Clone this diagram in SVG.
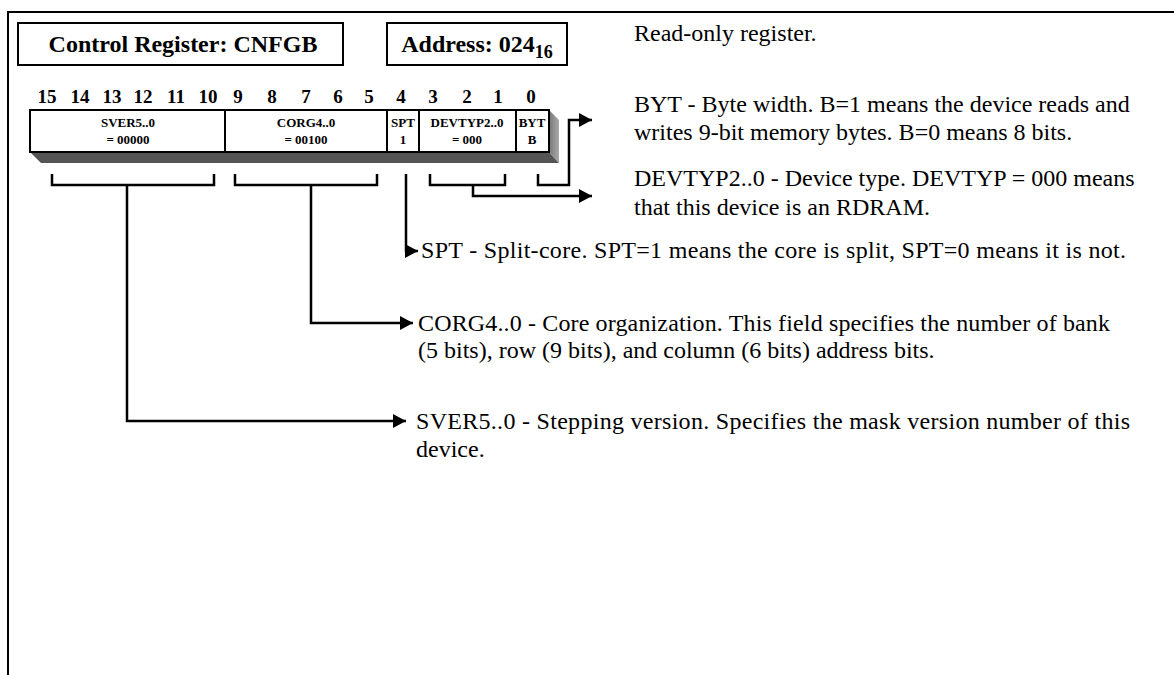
<svg xmlns="http://www.w3.org/2000/svg" width="1174" height="675" viewBox="0 0 1174 675">
<defs>
<marker id="arr" markerUnits="userSpaceOnUse" markerWidth="13" markerHeight="14" refX="13" refY="7" orient="auto">
<path d="M0,0 L13,7 L0,14 Z" fill="#000"/>
</marker>
<linearGradient id="side" x1="0" y1="0" x2="1" y2="0">
<stop offset="0" stop-color="#777"/>
<stop offset="1" stop-color="#aaa"/>
</linearGradient>
</defs>
<style>
.frame{fill:none;stroke:#000;stroke-width:2}
.box{fill:#fff;stroke:#000;stroke-width:2}
.title{font-family:"Liberation Serif",serif;font-weight:bold;font-size:24px;fill:#000}
.bits{font-family:"Liberation Serif",serif;font-weight:bold;font-size:19px;fill:#000}
.fld{font-family:"Liberation Serif",serif;font-weight:bold;font-size:13px;fill:#000}
.desc{font-family:"Liberation Serif",serif;font-size:24px;fill:#000}
.conn{fill:none;stroke:#000;stroke-width:2.5}
</style>
<rect width="1174" height="675" fill="#fff"/>
<path class="frame" d="M8,675 V12 H1174"/>

<g id="title-register">
<rect class="box" x="18" y="23" width="325" height="42"/>
<text class="title" x="183" y="52" text-anchor="middle">Control Register: CNFGB</text>
</g>
<g id="title-address">
<rect class="box" x="387" y="23" width="180" height="42"/>
<text class="title" x="477" y="52" text-anchor="middle">Address: 024<tspan font-size="18" dy="6">16</tspan></text>
</g>

<g id="bit-numbers" class="bits" text-anchor="middle">
<text x="47" y="103">15</text><text x="80" y="103">14</text><text x="112" y="103">13</text>
<text x="143" y="103">12</text><text x="176" y="103">11</text><text x="208" y="103">10</text>
<text x="238" y="103">9</text><text x="272" y="103">8</text><text x="306" y="103">7</text>
<text x="338" y="103">6</text><text x="369" y="103">5</text><text x="401" y="103">4</text>
<text x="433" y="103">3</text><text x="467" y="103">2</text><text x="498" y="103">1</text>
<text x="531" y="103">0</text>
</g>

<g id="register">
<polygon points="30,152 549,152 559,163 41,163" fill="#555"/>
<polygon points="549,110 559,120 559,163 549,152" fill="url(#side)"/>
<rect class="box" x="30" y="110" width="519" height="42"/>
<path d="M225,110 V152 M387,110 V152 M419,110 V152 M516,110 V152" stroke="#000" stroke-width="2"/>
</g>
<g id="field-sver" class="fld" text-anchor="middle">
<text x="128" y="127">SVER5..0</text><text x="128" y="144">= 00000</text>
</g>
<g id="field-corg" class="fld" text-anchor="middle">
<text x="306" y="127">CORG4..0</text><text x="306" y="144">= 00100</text>
</g>
<g id="field-spt" class="fld" text-anchor="middle">
<text x="403" y="127">SPT</text><text x="403" y="144">1</text>
</g>
<g id="field-devtyp" class="fld" text-anchor="middle">
<text x="467" y="127">DEVTYP2..0</text><text x="467" y="144">= 000</text>
</g>
<g id="field-byt" class="fld" text-anchor="middle">
<text x="532" y="127">BYT</text><text x="532" y="144">B</text>
</g>

<g id="connectors">
<path class="conn" d="M538,174 V185 H569 V120 H592" marker-end="url(#arr)"/>
<path class="conn" d="M430,174 V185 H505 V174"/>
<path class="conn" d="M473,185 V196 H592" marker-end="url(#arr)"/>
<path class="conn" d="M406,174 V251 H418" marker-end="url(#arr)"/>
<path class="conn" d="M235,174 V185 H377 V174"/>
<path class="conn" d="M311,185 V323 H413" marker-end="url(#arr)"/>
<path class="conn" d="M52,174 V185 H214 V174"/>
<path class="conn" d="M127,185 V421 H406" marker-end="url(#arr)"/>
</g>

<g id="desc-readonly"><text class="desc" x="634" y="41">Read-only register.</text></g>
<g id="desc-byt">
<text class="desc" x="634" y="112">BYT - Byte width. B=1 means the device reads and</text>
<text class="desc" x="634" y="140">writes 9-bit memory bytes. B=0 means 8 bits.</text>
</g>
<g id="desc-devtyp">
<text class="desc" x="634" y="186">DEVTYP2..0 - Device type. DEVTYP = 000 means</text>
<text class="desc" x="634" y="215">that this device is an RDRAM.</text>
</g>
<g id="desc-spt"><text class="desc" x="421" y="258" textLength="705" lengthAdjust="spacing">SPT - Split-core. SPT=1 means the core is split, SPT=0 means it is not.</text></g>
<g id="desc-corg">
<text class="desc" x="418" y="331" textLength="692" lengthAdjust="spacing">CORG4..0 - Core organization. This field specifies the number of bank</text>
<text class="desc" x="418" y="358">(5 bits), row (9 bits), and column (6 bits) address bits.</text>
</g>
<g id="desc-sver">
<text class="desc" x="416" y="429" textLength="714" lengthAdjust="spacing">SVER5..0 - Stepping version. Specifies the mask version number of this</text>
<text class="desc" x="416" y="457">device.</text>
</g>
</svg>
